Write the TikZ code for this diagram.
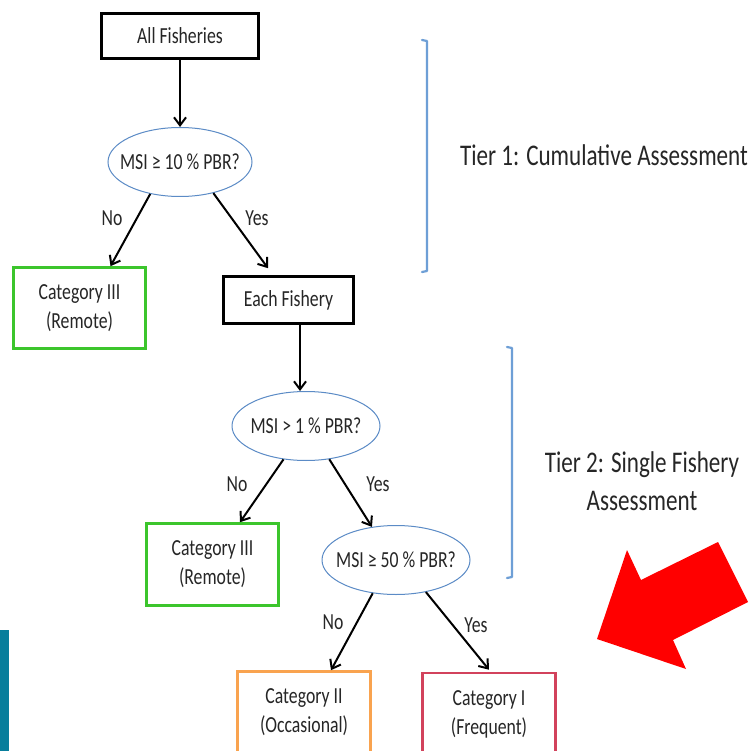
\documentclass[tikz,border=0pt]{standalone}
\usepackage{fontspec}
\setmainfont{Carlito}
\usepackage{graphicx}
\usetikzlibrary{shapes.geometric,arrows.meta}
\definecolor{ellblue}{HTML}{5B8BC6}
\definecolor{brablue}{HTML}{6E9FD6}
\definecolor{catgreen}{HTML}{3CC52C}
\definecolor{catorange}{HTML}{F9A34F}
\definecolor{catred}{HTML}{D2425C}
\definecolor{barteal}{HTML}{087E9C}
\newcommand\sq[1]{\scalebox{0.77}[1]{#1}}
\begin{document}
\begin{tikzpicture}[x=1pt,y=-1pt,
  txt/.style={font=\fontsize{23}{29}\selectfont, inner sep=0pt, align=center, text=black!85},
  bigtxt/.style={font=\fontsize{30}{38}\selectfont, inner sep=0pt, align=center, text=black!85},
  boxbase/.style={txt, rectangle, line width=2.6pt},
  blackbox/.style={boxbase, draw=black, minimum width=#1},
  greenbox/.style={boxbase, draw=catgreen, minimum width=132pt, minimum height=81pt},
  orangebox/.style={boxbase, draw=catorange, minimum width=133pt, minimum height=82pt},
  redbox/.style={boxbase, draw=catred, minimum width=133pt, minimum height=82pt},
  question/.style={txt, ellipse, draw=ellblue, line width=1pt, inner xsep=-15pt, inner ysep=0pt, minimum width=#1, minimum height=69pt},
  arr/.style={-{Straight Barb[length=8pt,width=12pt,line width=2pt]}, line width=2pt, black},
  bracket/.style={draw=brablue, line width=2.2pt, line cap=round, line join=round}]
\useasboundingbox (0,0) rectangle (752,751);
\clip (0,0) rectangle (752,751);
\fill[white] (0,0) rectangle (752,751);

% nodes
\node[blackbox=157pt, minimum height=45pt] (allf) at (180,36) {\sq{All Fisheries}};
\node[question=144pt] (q1) at (180,162) {\sq{MSI ≥ 10 \% PBR?}};
\node[greenbox] (cat3a) at (79.5,308) {\sq{Category III}\\\sq{(Remote)}};
\node[blackbox=130pt, minimum height=47pt] (each) at (288.5,300) {\sq{Each Fishery}};
\node[question=148pt] (q2) at (306,426) {\sq{MSI > 1 \% PBR?}};
\node[greenbox, minimum height=82pt] (cat3b) at (212.5,564.5) {\sq{Category III}\\\sq{(Remote)}};
\node[question=148pt] (q3) at (396,560) {\sq{MSI ≥ 50 \% PBR?}};
\node[orangebox] (cat2) at (304,712.5) {\sq{Category II}\\\sq{(Occasional)}};
\node[redbox] (cat1) at (489,714) {\sq{Category I}\\\sq{(Frequent)}};

% labels
\node[txt] (no1) at (112,218) {\sq{No}};
\node[txt] (yes1) at (257,218) {\sq{Yes}};
\node[txt] (no2) at (237,484) {\sq{No}};
\node[txt] (yes2) at (378,484) {\sq{Yes}};
\node[txt] (no3) at (333,622) {\sq{No}};
\node[txt] (yes3) at (476,625) {\sq{Yes}};

\node[bigtxt] (tier1) at (604,155) {\sq{Tier 1: Cumulative Assessment}};
\node[bigtxt] (tier2) at (642,481) {\sq{Tier 2: Single Fishery}\\\sq{Assessment}};

% connectors
\draw[arr] (allf) -- (q1);
\draw[arr] (q1.227) -- ([xshift=31pt]cat3a.north);
\draw[arr] (q1.317) -- ([xshift=-20.5pt,yshift=7pt]each.north);
\draw[arr] ([xshift=11.5pt]each.south) -- ([xshift=11.5pt]each.south |- q2.north);
\draw[arr] (q2.236) -- ([xshift=27.5pt]cat3b.north);
\draw[arr] (q2.305) -- (q3.126);
\draw[arr] (q3.235) -- ([xshift=27pt]cat2.north);
\draw[arr] (q3.313) -- ([yshift=2pt]cat1.north);

% tier brackets
\draw[bracket] (422,40) -- (427,41) -- (427,271) -- (422,272);
\draw[bracket] (507,347) -- (512,348) -- (512,577) -- (507,578);

% red arrow
\fill[red] (597,639) -- (627,550) -- (641,580) -- (718,542) -- (748,602) -- (673,640) -- (686,669) -- cycle;

% teal bar
\fill[barteal] (0,630) rectangle (9,751);
\end{tikzpicture}
\end{document}
